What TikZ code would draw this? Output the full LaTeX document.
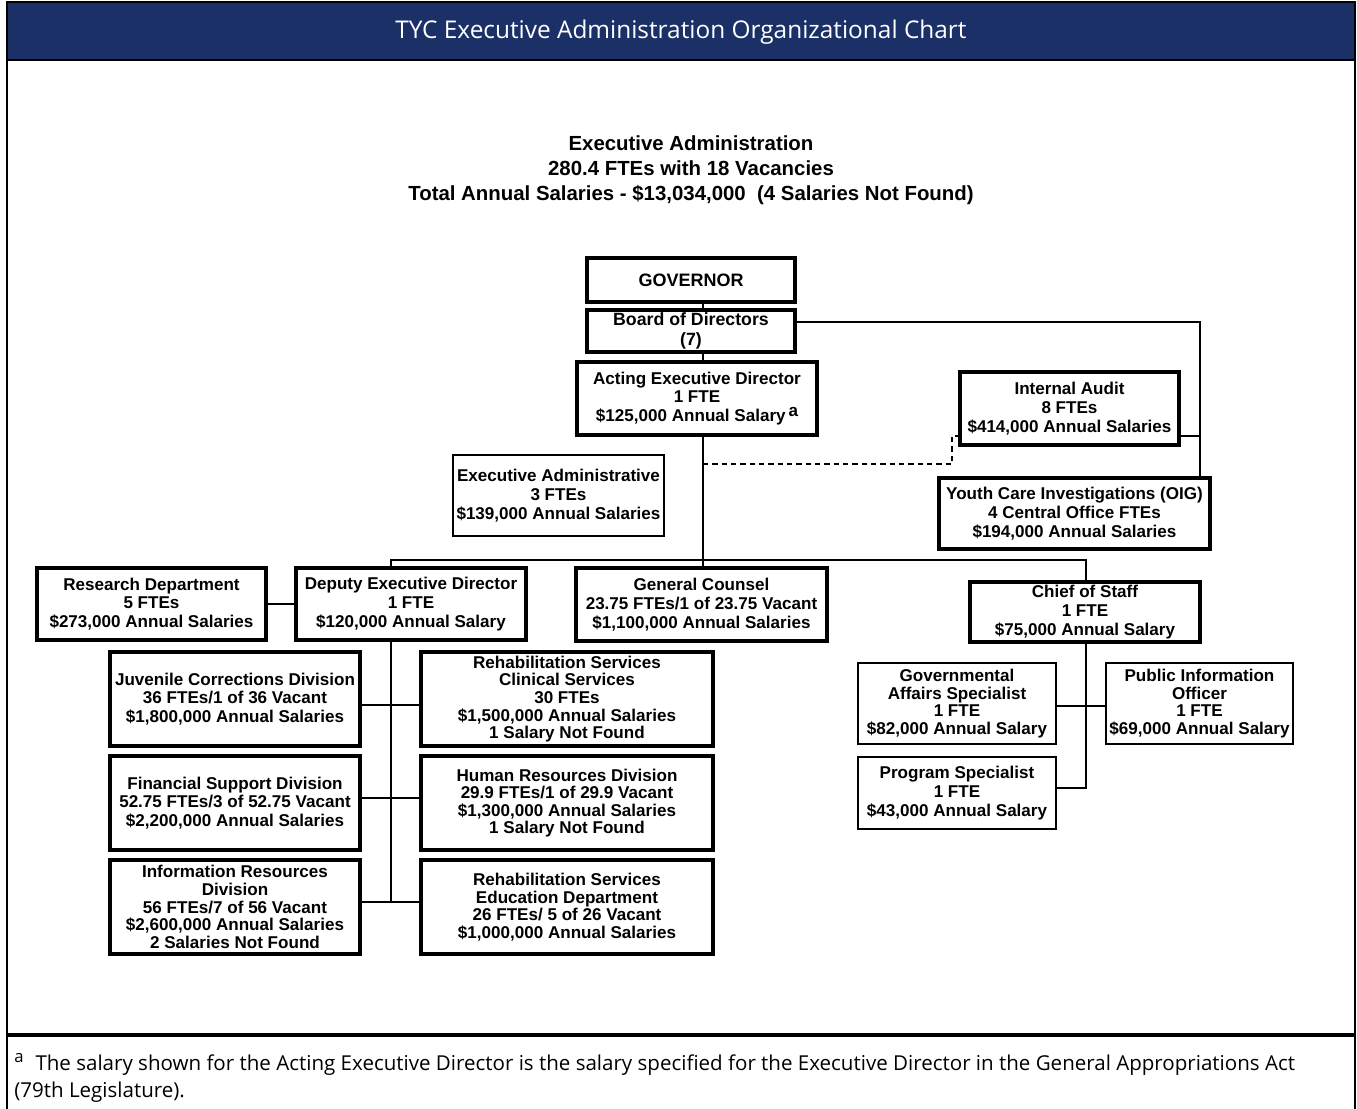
\documentclass[tikz,border=0pt]{standalone}
\usepackage{fontspec}
\setmainfont{Liberation Sans}
\newfontfamily\hdrfont{Open Sans}
\definecolor{hdrblue}{RGB}{28,48,104}
\begin{document}
\begin{tikzpicture}[x=0.75pt,y=-0.75pt,
  bb/.style n args={4}{at={({(#1+#3)/2},{(#2+#4)/2})},
     minimum width={(#3-#1)*0.75pt},minimum height={(#4-#2)*0.75pt}},
  boxbase/.style={draw=black,fill=white,inner sep=0pt,align=center,
     font=\bfseries\fontsize{12.8}{14.1}\selectfont},
  tight/.style={font=\bfseries\fontsize{12.8}{13.2}\selectfont},
  thickbox/.style={boxbase,line width=2.4pt},
  thinbox/.style={boxbase,line width=0.8pt},
  conn/.style={draw=black,line width=0.8pt},
  dconn/.style={draw=black,line width=0.8pt,dashed,dash pattern=on 4pt off 3pt}]
\useasboundingbox (0,0) rectangle (1357,1109);
% frame and header
\fill[hdrblue] (7,3) rectangle (1355,60);
\draw[line width=1.5pt] (7,2) -- (1355,2);
\draw[line width=2.2pt] (7,60) -- (1355,60);
\draw[line width=1.5pt] (7,1) -- (7,1109);
\draw[line width=1.5pt] (1355,1) -- (1355,1109);
\draw[line width=2.4pt] (7,1035) -- (1355,1035);
\node[text=white,font=\hdrfont\fontsize{18.3}{21}\selectfont] (hdr) at (681,32) {TYC Executive Administration Organizational Chart};
\node[align=center,font=\bfseries\fontsize{15.3}{18.75}\selectfont] (ttl) at (691,170)
  {Executive Administration\\280.4 FTEs with 18 Vacancies\\Total Annual Salaries - \$13,034,000~~(4 Salaries Not Found)};
% footnote
\node[anchor=base west,inner sep=0pt,font=\hdrfont\fontsize{15.4}{18}\selectfont] (fn1) at (14,1070)
  {\raisebox{0.7ex}{\fontsize{12.5}{12}\selectfont a}\hspace{9pt}The salary shown for the Acting Executive Director is the salary specified for the Executive Director in the General Appropriations Act};
\node[anchor=base west,inner sep=0pt,font=\hdrfont\fontsize{15.4}{18}\selectfont] (fn2) at (14,1097)
  {(79th Legislature).};
% boxes
\node[thickbox,bb={587}{258}{795}{302},font=\bfseries\fontsize{13.5}{15}\selectfont] (gov) {GOVERNOR};
\node[thickbox,bb={587}{310}{795}{352},font=\bfseries\fontsize{13.3}{15.5}\selectfont] (board) {Board of Directors\\(7)};
\node[thickbox,line width=3pt,bb={577}{362}{817}{435}] (aed) {Acting Executive Director\\1 FTE\\\$125,000 Annual Salary\,\raisebox{0.6ex}{a}};
\node[thickbox,bb={960}{372}{1179}{445}] (ia) {Internal Audit\\8 FTEs\\\$414,000 Annual Salaries};
\node[thickbox,bb={939}{478}{1210}{549}] (yci) {Youth Care Investigations (OIG)\\4 Central Office FTEs\\\$194,000 Annual Salaries};
\node[thinbox,bb={453}{455}{664}{536}] (exa) {Executive Administrative\\3 FTEs\\\$139,000 Annual Salaries};
\node[thickbox,bb={37}{568}{266}{640}] (res) {Research Department\\5 FTEs\\\$273,000 Annual Salaries};
\node[thickbox,bb={296}{568}{526}{640}] (dep) {Deputy Executive Director\\1 FTE\\\$120,000 Annual Salary};
\node[thickbox,bb={576}{568}{827}{641}] (gc) {General Counsel\\23.75 FTEs/1 of 23.75 Vacant\\\$1,100,000 Annual Salaries};
\node[thickbox,line width=3pt,bb={970}{582}{1200}{642}] (cos) {Chief of Staff\\1 FTE\\\$75,000 Annual Salary};
\node[thinbox,tight,bb={858}{663}{1056}{744}] (gas) {Governmental\\Affairs Specialist\\1 FTE\\\$82,000 Annual Salary};
\node[thinbox,tight,bb={1106}{663}{1293}{744}] (pio) {Public Information\\Officer\\1 FTE\\\$69,000 Annual Salary};
\node[thinbox,bb={858}{757}{1056}{829}] (ps) {Program Specialist\\1 FTE\\\$43,000 Annual Salary};
\node[thickbox,bb={110}{652}{360}{746}] (jcd) {Juvenile Corrections Division\\36 FTEs/1 of 36 Vacant\\\$1,800,000 Annual Salaries};
\node[thickbox,tight,bb={421}{652}{713}{746}] (rsc) {Rehabilitation Services\\Clinical Services\\30 FTEs\\\$1,500,000 Annual Salaries\\1 Salary Not Found};
\node[thickbox,bb={110}{756}{360}{850}] (fsd) {Financial Support Division\\52.75 FTEs/3 of 52.75 Vacant\\\$2,200,000 Annual Salaries};
\node[thickbox,tight,bb={421}{756}{713}{850}] (hrd) {Human Resources Division\\29.9 FTEs/1 of 29.9 Vacant\\\$1,300,000 Annual Salaries\\1 Salary Not Found};
\node[thickbox,tight,bb={110}{860}{360}{954}] (ird) {Information Resources\\Division\\56 FTEs/7 of 56 Vacant\\\$2,600,000 Annual Salaries\\2 Salaries Not Found};
\node[thickbox,tight,bb={421}{860}{713}{954}] (rse) {Rehabilitation Services\\Education Department\\26 FTEs/ 5 of 26 Vacant\\\$1,000,000 Annual Salaries};
% junction coordinates
\coordinate (spine) at (703,0);
\coordinate (rt) at (1200,322);
\coordinate (iaj) at (1200,436);
\coordinate (dashstart) at (703,464);
\coordinate (dashup) at (952,436);
\coordinate (busL) at (391,560);
\coordinate (busM) at (703,560);
\coordinate (busR) at (1086,560);
\coordinate (h1) at (391,705);
\coordinate (h2) at (391,798);
\coordinate (h3) at (391,902);
\coordinate (cj) at (1086,706);
\coordinate (pj) at (1086,788);
% connectors
\draw[conn] (gov.south -| spine) -- (board.north -| spine);
\draw[conn] (board.south -| spine) -- (aed.north -| spine);
\draw[conn] (board.east |- rt) -- (rt) -- (yci.north -| rt);
\draw[conn] (ia.east |- iaj) -- (iaj);
\draw[dconn] (dashstart) -| (dashup) -- (ia.west |- dashup);
\draw[conn] (aed.south -| spine) -- (busM);
\draw[conn] (dep.north -| busL) -- (busL) -- (busR) -- (cos.north -| busR);
\draw[conn] (busM) -- (gc.north -| busM);
\draw[conn] (res.east) -- (dep.west |- res.east);
\draw[conn] (dep.south -| busL) -- (h3);
\draw[conn] (jcd.east |- h1) -- (rsc.west |- h1);
\draw[conn] (fsd.east |- h2) -- (hrd.west |- h2);
\draw[conn] (ird.east |- h3) -- (rse.west |- h3);
\draw[conn] (cos.south -| cj) -- (pj) -- (ps.east |- pj);
\draw[conn] (gas.east |- cj) -- (pio.west |- cj);
\end{tikzpicture}
\end{document}
